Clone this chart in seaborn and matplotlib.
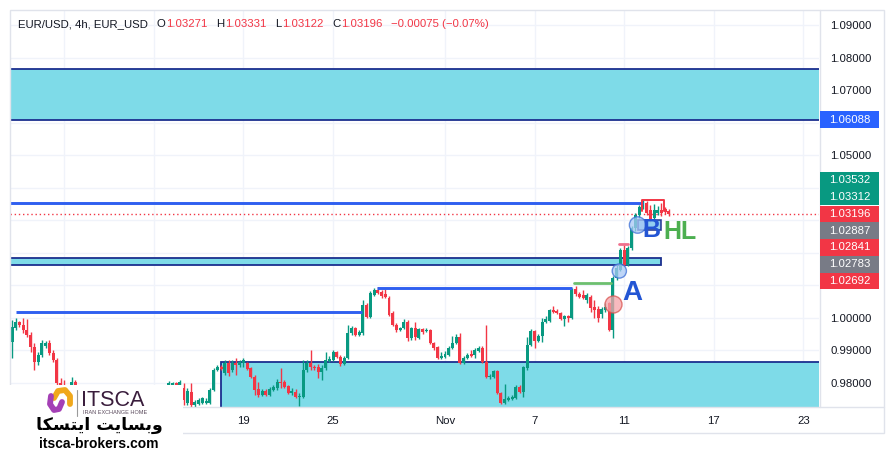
import numpy as np
import pandas as pd
import matplotlib
matplotlib.use("Agg")
import matplotlib.pyplot as plt
import seaborn as sns
from matplotlib.patches import Rectangle
from matplotlib.lines import Line2D

# ---------------- data ----------------
first_candle = "2022-10-04 16:00"

opens = [
    .9926, .9969, .9987, .9978, .9963, .9947, .9910, .9864, .9886, .9914,
    .9923, .9892, .9871, .9800, .9784, .9772, .9760, .9803, .9778, .9742,
    .9752, .9731, .9708, .9712, .9718, .9735, .9710, .9725, .9755, .9740,
    .9722, .9712, .9720, .9715, .9738, .9725, .9700, .9680, .9655, .9645,
    .9712, .9755, .9784, .9791, .9799, .9784, .9784, .9738, .9772, .9732,
    .9735, .9738, .9738, .9738, .9778, .9840, .9849, .9831, .9861, .9840,
    .9861, .9855, .9861, .9861, .9846, .9818, .9781, .9763, .9775, .9763,
    .9778, .9784, .9803, .9803, .9791, .9769, .9772, .9757, .9757, .9840,
    .9861, .9849, .9849, .9834, .9846, .9867, .9871, .9895, .9880, .9858,
    .9877, .9954, .9969, .9947, .9954, 1.0040, 1.0003, 1.0070, 1.0086, 1.0080,
    1.0073, 1.0061, 1.0015, .9978, .9963, .9969, .9987, .9938, .9969, .9938,
    .9966, .9960, .9963, .9923, .9910, .9877, .9880, .9886, .9907, .9923,
    .9941, .9861, .9877, .9889, .9886, .9898, .9907, .9864, .9818, .9818,
    .9837, .9769, .9738, .9748, .9751, .9754, .9788, .9772, .9846, .9917,
    .9960, .9929, .9944, .9987, .9990, 1.0024, 1.0021, 1.0015, .9997, 1.0006,
    1.0000, 1.0089, 1.0073, 1.0070, 1.0055, 1.0064, 1.0033, 1.0027, 1.0012, 1.0024,
    1.0046, .9963, 1.0123, 1.0147, 1.0209, 1.0162, 1.0215, 1.0276, 1.0316, 1.0341,
    1.0353, 1.0332, 1.0307, 1.0322, 1.0332, 1.0335, 1.03271,
]
highs = [
    .9993, 1.0000, .9990, 1.0000, .9997, .9957, .9923, .9895, .9932, .9929,
    .9932, .9901, .9877, .9815, .9809, .9791, .9818, .9809, .9785, .9760,
    .9758, .9740, .9722, .9725, .9740, .9745, .9730, .9765, .9770, .9752,
    .9735, .9728, .9738, .9745, .9748, .9735, .9712, .9700, .9668, .9720,
    .9765, .9790, .9806, .9803, .9802, .9809, .9800, .9784, .9800, .9748,
    .9754, .9757, .9754, .9784, .9846, .9855, .9855, .9871, .9871, .9871,
    .9877, .9871, .9877, .9864, .9849, .9824, .9803, .9781, .9781, .9788,
    .9794, .9812, .9846, .9809, .9794, .9784, .9781, .9769, .9871, .9871,
    .9901, .9855, .9858, .9855, .9895, .9883, .9901, .9898, .9886, .9883,
    .9978, .9975, .9972, .9963, 1.0055, 1.0046, 1.0083, 1.0092, 1.0095, 1.0086,
    1.0089, 1.0067, 1.0021, .9984, .9972, .9997, .9993, .9972, .9987, .9969,
    .9969, .9969, .9966, .9926, .9914, .9895, .9898, .9914, .9944, .9950,
    .9954, .9883, .9892, .9901, .9907, .9914, .9914, .9978, .9828, .9840,
    .9840, .9772, .9797, .9760, .9763, .9794, .9794, .9852, .9941, .9966,
    .9963, .9950, 1.0000, 1.0006, 1.0027, 1.0036, 1.0027, 1.0018, 1.0009, 1.0009,
    1.0092, 1.0098, 1.0080, 1.0086, 1.0076, 1.0070, 1.0055, 1.0036, 1.0033, 1.0046,
    1.0049, 1.0129, 1.0162, 1.0215, 1.0224, 1.0221, 1.0282, 1.0322, 1.0347, 1.0362,
    1.0359, 1.0347, 1.0350, 1.0344, 1.0353, 1.0341, 1.03331,
]
lows = [
    .9877, .9963, .9972, .9954, .9941, .9895, .9840, .9855, .9880, .9907,
    .9886, .9864, .9794, .9778, .9766, .9754, .9754, .9772, .9735, .9730,
    .9725, .9700, .9695, .9700, .9710, .9705, .9700, .9720, .9735, .9715,
    .9705, .9700, .9710, .9705, .9718, .9690, .9665, .9640, .9632, .9640,
    .9705, .9745, .9775, .9782, .9775, .9772, .9732, .9732, .9726, .9717,
    .9732, .9735, .9735, .9735, .9775, .9837, .9840, .9824, .9821, .9834,
    .9824, .9849, .9849, .9840, .9815, .9763, .9757, .9760, .9760, .9760,
    .9775, .9778, .9784, .9784, .9766, .9763, .9754, .9729, .9754, .9834,
    .9840, .9840, .9815, .9809, .9840, .9864, .9867, .9877, .9852, .9855,
    .9874, .9947, .9944, .9944, .9947, 1.0000, 1.0000, 1.0067, 1.0073, 1.0061,
    1.0061, 1.0006, .9975, .9957, .9960, .9966, .9929, .9932, .9932, .9935,
    .9950, .9957, .9920, .9901, .9874, .9874, .9877, .9883, .9904, .9920,
    .9858, .9858, .9874, .9880, .9877, .9895, .9861, .9815, .9812, .9815,
    .9766, .9735, .9735, .9745, .9748, .9751, .9769, .9757, .9840, .9914,
    .9907, .9926, .9926, .9984, .9987, 1.0015, 1.0012, .9993, .9975, .9987,
    .9997, 1.0067, 1.0061, 1.0058, 1.0046, 1.0018, 1.0000, .9987, 1.0000, 1.0018,
    .9960, .9938, 1.0116, 1.0144, 1.0159, 1.0159, 1.0209, 1.0267, 1.0307, 1.0335,
    1.0316, 1.0295, 1.0301, 1.0316, 1.0313, 1.0319, 1.03122,
]
closes = [
    .9972, .9987, .9978, .9963, .9947, .9910, .9864, .9886, .9923, .9923,
    .9892, .9871, .9800, .9784, .9772, .9760, .9803, .9778, .9742, .9752,
    .9731, .9708, .9712, .9718, .9735, .9710, .9725, .9755, .9740, .9722,
    .9712, .9720, .9715, .9738, .9725, .9700, .9680, .9655, .9645, .9712,
    .9755, .9778, .9800, .9799, .9783, .9803, .9748, .9775, .9732, .9741,
    .9748, .9754, .9745, .9778, .9840, .9849, .9843, .9861, .9831, .9861,
    .9855, .9864, .9871, .9843, .9818, .9778, .9763, .9775, .9763, .9781,
    .9788, .9803, .9800, .9788, .9769, .9775, .9757, .9760, .9840, .9861,
    .9849, .9846, .9834, .9846, .9871, .9874, .9895, .9880, .9858, .9877,
    .9954, .9969, .9947, .9957, 1.0040, 1.0003, 1.0076, 1.0086, 1.0076, 1.0067,
    1.0064, 1.0009, .9978, .9963, .9969, .9987, .9938, .9969, .9941, .9966,
    .9957, .9963, .9923, .9907, .9877, .9883, .9889, .9907, .9923, .9941,
    .9861, .9877, .9886, .9883, .9901, .9907, .9864, .9818, .9821, .9837,
    .9769, .9738, .9751, .9754, .9757, .9788, .9772, .9849, .9917, .9960,
    .9929, .9944, .9987, .9997, 1.0024, 1.0018, 1.0015, .9997, 1.0006, 1.0000,
    1.0086, 1.0073, 1.0064, 1.0061, 1.0070, 1.0030, 1.0024, 1.0000, 1.0027, 1.0033,
    .9963, 1.0123, 1.0153, 1.0209, 1.0162, 1.0215, 1.0276, 1.0316, 1.0341, 1.0353,
    1.0322, 1.0301, 1.0332, 1.0332, 1.0322, 1.0325, 1.03196,
]

grid_dates = ["2022-10-07", "2022-10-13", "2022-10-19", "2022-10-25", "2022-11-01",
              "2022-11-07", "2022-11-11", "2022-11-17", "2022-11-23"]
tick_dates = ["2022-10-19", "2022-10-25", "2022-11-01",
              "2022-11-07", "2022-11-11", "2022-11-17", "2022-11-23"]
tick_labels = ["19", "25", "Nov", "7", "11", "17", "23"]
price_ticks = [0.98, 0.99, 1.00, 1.05, 1.07, 1.08, 1.09]
grid_prices = [0.98, 0.99, 1.00, 1.01, 1.02, 1.03, 1.04, 1.05, 1.06, 1.07, 1.08, 1.09]

title_name = "EUR/USD, 4h, EUR_USD"
title_ohlc = ["1.03271", "1.03331", "1.03122", "1.03196"]
title_change = "\u22120.00075 (\u22120.07%)"

# drawings (price levels, candle-index spans)
top_zone = (1.06088, 1.07648)
mid_zone = (1.01624, 1.01830, 173.9)           # lo, hi, right end
low_zone = (0.9600, 0.98659, 56.0)             # lo, hi, left start
blue_levels = [1.0353, 1.0018, 1.0092]
blue_starts = [-0.54, 1.07, 97.8]
blue_ends = [169.0, 93.8, 150.0]
green_level, green_span = 1.0108, (150.6, 160.5)
pink_level, pink_span = 1.0226, (162.6, 165.0)
bracket_top, bracket_bottom, bracket_span = 1.0361, 1.0328, (168.9, 174.7)
small_box = (167.7, 173.9, 1.0270, 1.0301)
circle_x = [160.9, 162.7, 167.6]
circle_y = [1.00426, 1.01440, 1.02854]
circle_kind = ["pink", "blue", "blue"]
circle_size = [150, 105, 140]
letters = ["A", "B", "HL"]
letter_x = [166.3, 171.4, 179.0]
letter_y = [1.0075, 1.0270, 1.0265]

side_label_values = ["1.03532", "1.03312", "1.03196", "1.02887", "1.02841", "1.02783", "1.02692"]
side_label_kinds = ["up", "up", "down", "gray", "down", "gray", "down"]
blue_label_value = 1.06088
current_price = 1.03196

# ---------------- style ----------------
W, H = 894, 469
GREEN = "#089981"
RED = "#f23645"
GRAY = "#787b86"
BLUE_LBL = "#2962ff"
DARK = "#131722"
CYAN = "#7edbe8"
NAVY = "#1b2f8f"
LINE_BLUE = "#2f5ff0"
GRID = "#f0f3fa"
FRAME = "#e0e3eb"

sns.set_theme(style="white")
plt.rcParams['font.family'] = ['Liberation Sans', 'DejaVu Sans']
plt.rcParams['axes.unicode_minus'] = True

fig = plt.figure(figsize=(W / 100, H / 100), dpi=100)
fig.patch.set_facecolor("white")


def fx(x):
    return x / W


def fy(y):
    return 1 - y / H


ax = fig.add_axes([fx(10), fy(407), (819 - 10) / W, (407 - 10) / H])
ax.set_facecolor("white")
for s in ax.spines.values():
    s.set_visible(False)
X0, X1 = -0.54, 216.2
ax.set_xlim(X0, X1)
ax.set_ylim(0.97261, 1.09461)

# time axis from a trading calendar (4h candles, weekdays)
stamps, t = [], pd.Timestamp(first_candle)
while len(stamps) < 240:
    if t.weekday() < 5:
        stamps.append(t)
    t += pd.Timedelta(hours=4)
first_idx = {}
for i, s in enumerate(stamps):
    first_idx.setdefault(s.normalize(), i)
tick_pos = [first_idx[pd.Timestamp(d)] for d in tick_dates]
grid_pos = [first_idx[pd.Timestamp(d)] for d in grid_dates]

# grid
for p in grid_prices:
    ax.axhline(p, color=GRID, lw=1, zorder=0)
for xp in grid_pos:
    ax.axvline(xp, color=GRID, lw=1, zorder=0)

# zones
ax.axhspan(top_zone[0], top_zone[1], color=CYAN, lw=0, zorder=1)
ax.axhline(top_zone[0], color=NAVY, lw=1.3, zorder=1.5)
ax.axhline(top_zone[1], color=NAVY, lw=1.3, zorder=1.5)
ax.add_patch(Rectangle((X0 - 1, mid_zone[0]), mid_zone[2] - X0 + 1, mid_zone[1] - mid_zone[0],
                       facecolor=CYAN, edgecolor=NAVY, lw=1.3, zorder=1.5))
ax.add_patch(Rectangle((low_zone[2], low_zone[0]), X1 + 5 - low_zone[2], low_zone[1] - low_zone[0],
                       facecolor=CYAN, edgecolor=NAVY, lw=1.3, zorder=1.5))

# candles
df = pd.DataFrame({"open": opens, "high": highs, "low": lows, "close": closes})
df["idx"] = np.arange(len(df))
df["up"] = df["close"] >= df["open"]
cols = np.where(df["up"], GREEN, RED)
top = np.maximum.reduce([df["high"], df["open"], df["close"]])
bot = np.minimum.reduce([df["low"], df["open"], df["close"]])
ax.vlines(df["idx"], bot, top, colors=cols, lw=1.0, zorder=3)
body_lo = np.minimum(df["open"], df["close"])
body_h = np.maximum((df["close"] - df["open"]).abs(), 0.0003)
ax.bar(df["idx"], body_h, bottom=body_lo, width=0.8, color=cols, linewidth=0, zorder=3.5)

# horizontal drawings
for lv, a, b in zip(blue_levels, blue_starts, blue_ends):
    ax.plot([a, b], [lv, lv], color=LINE_BLUE, lw=2.1, solid_capstyle="butt", zorder=4)
ax.plot(green_span, [green_level] * 2, color="#6cbf6f", lw=2.0, zorder=4)
ax.plot(pink_span, [pink_level] * 2, color="#ef6f8c", lw=2.0, zorder=4)
ax.plot([bracket_span[0], bracket_span[0], bracket_span[1], bracket_span[1]],
        [bracket_bottom, bracket_top, bracket_top, bracket_bottom], color=RED, lw=1.4, zorder=4)
ax.axhline(current_price, color=RED, lw=1, ls=(0, (1, 2)), zorder=2)
ax.add_patch(Rectangle((small_box[0], small_box[2]), small_box[1] - small_box[0], small_box[3] - small_box[2],
                       facecolor="#86c9ef", edgecolor=NAVY, lw=1.2, alpha=0.9, zorder=4.5))

# circles (seaborn scatter)
circ = pd.DataFrame({"x": circle_x, "y": circle_y, "kind": circle_kind, "size": circle_size})
for kind, fc, ec in [("pink", "#f5a3a8", "#d9534f"), ("blue", "#a8c8f5", "#3d6fd6")]:
    sub = circ[circ["kind"] == kind]
    sns.scatterplot(data=sub, x="x", y="y", s=sub["size"].tolist(), color=fc, edgecolor=ec,
                    linewidth=1.0, alpha=0.75, ax=ax, zorder=5, legend=False)
ax.set_xlabel("")
ax.set_ylabel("")

# letters
for txt, lx, ly in zip(letters, letter_x, letter_y):
    ax.text(lx, ly, txt, color="#4caf50" if txt == "HL" else "#2355d4",
            fontsize=20 if txt == "A" else 18, fontweight="bold",
            ha="center", va="center", zorder=6)

# axes ticks
ax.set_xticks(tick_pos)
ax.set_xticklabels(tick_labels)
ax.tick_params(axis="x", length=0, pad=6.5, labelsize=8.2, colors=DARK)
ax.yaxis.tick_right()
ax.set_yticks(price_ticks)
ax.set_yticklabels([f"{p:.5f}" for p in price_ticks])
ax.tick_params(axis="y", length=0, pad=8.0, labelsize=8.2, colors=DARK)
ax.grid(False)

# frame lines
fig.add_artist(Rectangle((fx(10), fy(433)), (884 - 10) / W, (433 - 10) / H, transform=fig.transFigure,
                         facecolor="none", edgecolor=FRAME, lw=1.0, zorder=2))
fig.add_artist(Line2D([fx(10), fx(884)], [fy(407), fy(407)], transform=fig.transFigure, color=FRAME, lw=1.0))
fig.add_artist(Line2D([fx(819.5), fx(819.5)], [fy(10), fy(407)], transform=fig.transFigure, color=FRAME, lw=1.0))


def ypix(price):
    return H - ax.transData.transform((0, price))[1]


def side_label(yc, text, color):
    fig.add_artist(Rectangle((fx(820), fy(yc + 8.3)), 59 / W, 16.6 / H, transform=fig.transFigure,
                             facecolor=color, edgecolor="none", zorder=8))
    fig.text(fx(849.5), fy(yc), text, color="white", fontsize=8.2, ha="center", va="center", zorder=9)


side_label(ypix(blue_label_value), f"{blue_label_value:.5f}", BLUE_LBL)
kind_col = {"up": GREEN, "down": RED, "gray": GRAY}
yc0 = ypix(current_price)
for k, (val, kind) in enumerate(zip(side_label_values, side_label_kinds)):
    side_label(yc0 + (k - 2) * 16.8, val, kind_col[kind])

# title line
renderer = fig.canvas.get_renderer()
parts = [(title_name, DARK, 9), ("O", DARK, 0.5), (title_ohlc[0], RED, 9), ("H", DARK, 0.5),
         (title_ohlc[1], RED, 9), ("L", DARK, 0.5), (title_ohlc[2], RED, 9), ("C", DARK, 0.5),
         (title_ohlc[3], RED, 8), (title_change, RED, 0)]
xcur = 18
for txt, colr, gap in parts:
    tt = fig.text(fx(xcur), fy(24), txt, color=colr, fontsize=8.2, ha="left", va="center")
    bb = tt.get_window_extent(renderer)
    xcur += bb.width + gap

# logo block
fig.add_artist(Rectangle((0, 0), fx(183), fy(385), transform=fig.transFigure,
                         facecolor="white", edgecolor="none", zorder=10))


def pline(pts, color, lw):
    fig.add_artist(Line2D([fx(p[0]) for p in pts], [fy(p[1]) for p in pts], transform=fig.transFigure,
                          color=color, lw=lw, solid_capstyle="round", solid_joinstyle="round", zorder=11))


pline([(54, 398), (58, 391), (65, 390), (70, 396), (70, 404)], "#f0a81c", 4.2)
pline([(51, 396), (50, 404), (54, 410), (59, 409), (62, 402)], "#a43fb5", 4.2)
pline([(77, 390), (77, 416)], "#9a9a9a", 0.8)
fig.text(fx(81), fy(400.5), "ITSCA", color="#3a1d3c", fontsize=15.5, ha="left", va="center", zorder=12)
fig.text(fx(83), fy(412.5), "IRAN EXCHANGE HOME", color="#5a4a5c", fontsize=4.0, ha="left", va="center",
         zorder=12)
persian = "\ufe8e\ufedc\ufeb4\ufe98\ufef3\ufe8d \ufe96\ufef3\ufe8e\ufeb4\ufe91\ufeed"  # وبسایت ایتسکا (shaped)
fig.text(fx(99), fy(425), persian, color="black", fontsize=12.5, fontweight="bold", ha="center",
         va="center", family=["DejaVu Sans"], zorder=12)
fig.text(fx(99), fy(444), "itsca-brokers.com", color="black", fontsize=10, fontweight="bold",
         ha="center", va="center", zorder=12)

fig.savefig("out.png", dpi=100, facecolor="white")
